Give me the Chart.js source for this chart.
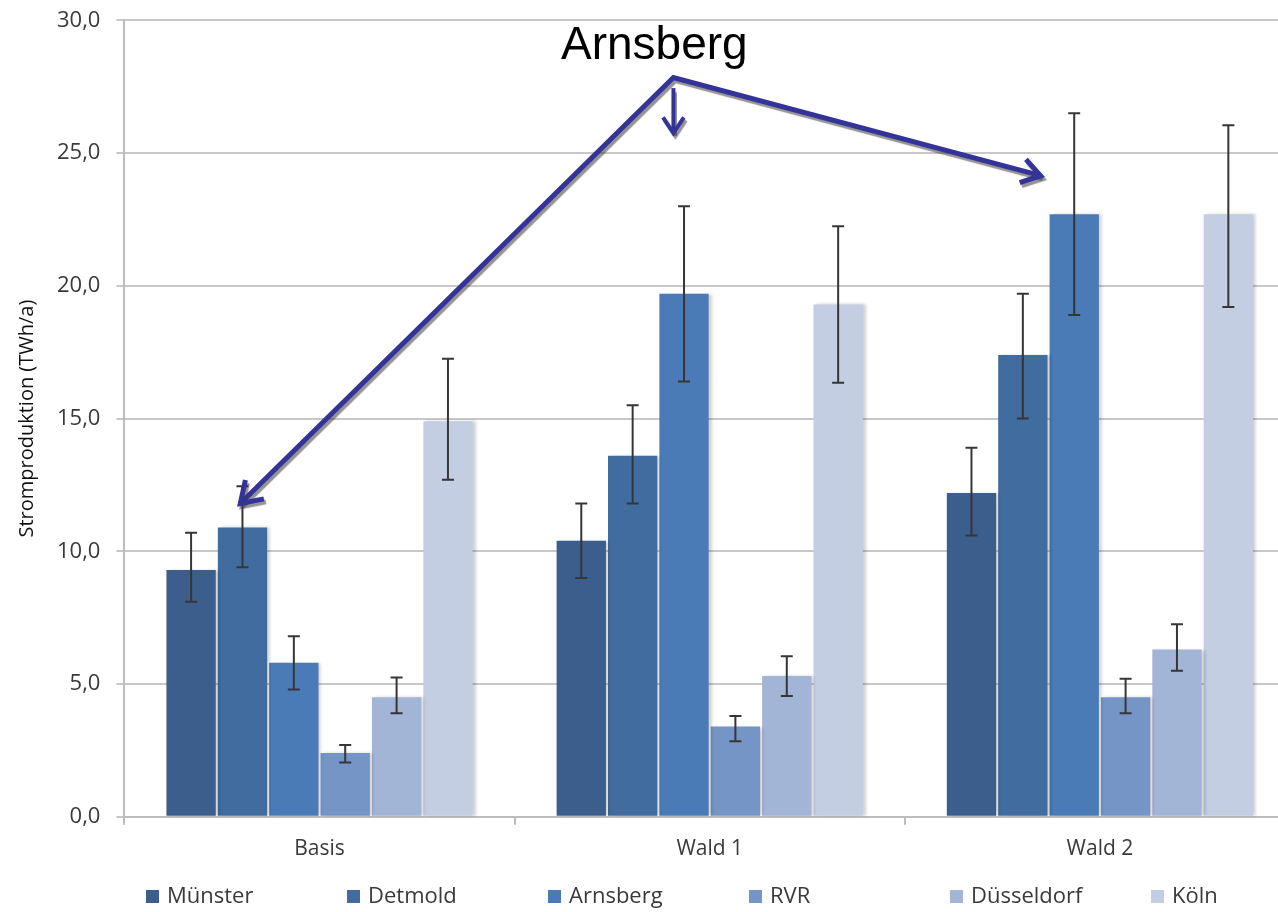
<!DOCTYPE html>
<html>
<head>
<meta charset="utf-8">
<script src="https://cdn.jsdelivr.net/npm/chart.js@4.4.1/dist/chart.umd.min.js"></script>
<style>
  html, body { margin: 0; padding: 0; background: #fff; overflow: hidden; }
  #wrap { width: 1300px; height: 912px; }
</style>
</head>
<body>
<div id="wrap"><canvas id="chart" width="1300" height="912"></canvas></div>
<script>
// Szenarien und Regierungsbezirke
const scenarios = ['Basis', 'Wald 1', 'Wald 2'];
const regions = ['Münster', 'Detmold', 'Arnsberg', 'RVR', 'Düsseldorf', 'Köln'];
const yTicks = [0, 5, 10, 15, 20, 25, 30];

// Stromproduktion in TWh/a (Basis, Wald 1, Wald 2)
const muenster = [9.3, 10.4, 12.2];
const detmold = [10.9, 13.6, 17.4];
const arnsberg = [5.8, 19.7, 22.7];
const rvr = [2.4, 3.4, 4.5];
const duesseldorf = [4.5, 5.3, 6.3];
const koeln = [14.9, 19.3, 22.7];

// Fehlerbalken [min, max]
const muensterErr = [[8.1, 10.7], [9.0, 11.8], [10.6, 13.9]];
const detmoldErr = [[9.4, 12.45], [11.8, 15.5], [15.0, 19.7]];
const arnsbergErr = [[4.8, 6.8], [16.4, 23.0], [18.9, 26.5]];
const rvrErr = [[2.05, 2.7], [2.85, 3.8], [3.9, 5.2]];
const duesseldorfErr = [[3.9, 5.25], [4.55, 6.05], [5.5, 7.25]];
const koelnErr = [[12.7, 17.25], [16.35, 22.25], [19.2, 26.05]];

const colors = ['#3b5e8c', '#416ca0', '#4a7bb7', '#7495c5', '#a2b5d7', '#c4cee3'];
const seriesValues = [muenster, detmold, arnsberg, rvr, duesseldorf, koeln];
const seriesErrors = [muensterErr, detmoldErr, arnsbergErr, rvrErr, duesseldorfErr, koelnErr];

// Annotation "Arnsberg" (Kategorie-Index, Wert)
const labelPos = [0.858, 28.55];
const hubPos = [0.907, 27.85];
const arrowTargets = [[-0.203, 11.8], [1.848, 24.15]];
const downArrow = [[0.907, 27.45], [0.907, 25.75]];

const FONT = 'Open Sans';

const barShadow = {
  id: 'barShadow',
  beforeDatasetsDraw(chart) {
    const ctx = chart.ctx;
    ctx.save();
    ctx.shadowColor = 'rgba(0,0,0,0.18)';
    ctx.shadowOffsetX = 3;
    ctx.shadowOffsetY = 0;
    ctx.shadowBlur = 3;
  },
  afterDatasetsDraw(chart) {
    chart.ctx.restore();
  }
};

const errorBars = {
  id: 'errorBars',
  afterDatasetsDraw(chart) {
    const ctx = chart.ctx;
    const y = chart.scales.y;
    ctx.save();
    ctx.strokeStyle = '#363636';
    ctx.lineWidth = 2;
    chart.data.datasets.forEach((ds, di) => {
      const meta = chart.getDatasetMeta(di);
      meta.data.forEach((bar, i) => {
        const [lo, hi] = seriesErrors[di][i];
        const x = bar.x;
        const yl = y.getPixelForValue(lo);
        const yh = y.getPixelForValue(hi);
        ctx.beginPath();
        ctx.moveTo(x, yl); ctx.lineTo(x, yh);
        ctx.moveTo(x - 6, yl); ctx.lineTo(x + 6, yl);
        ctx.moveTo(x - 6, yh); ctx.lineTo(x + 6, yh);
        ctx.stroke();
      });
    });
    ctx.restore();
  }
};

function arrowHead(ctx, fx, fy, tx, ty, len) {
  const a = Math.atan2(ty - fy, tx - fx);
  const spread = 0.58;
  ctx.beginPath();
  ctx.moveTo(tx - len * Math.cos(a - spread), ty - len * Math.sin(a - spread));
  ctx.lineTo(tx, ty);
  ctx.lineTo(tx - len * Math.cos(a + spread), ty - len * Math.sin(a + spread));
  ctx.stroke();
}

const annotation = {
  id: 'annotation',
  afterDraw(chart) {
    const ctx = chart.ctx;
    const xs = chart.scales.x, ys = chart.scales.y;
    const px = p => [xs.getPixelForValue(p[0]), ys.getPixelForValue(p[1])];
    ctx.save();
    ctx.fillStyle = '#000';
    ctx.font = '46px "Liberation Sans", Arial, sans-serif';
    ctx.textAlign = 'center';
    ctx.textBaseline = 'alphabetic';
    const lp = px(labelPos);
    ctx.fillText('Arnsberg', lp[0], lp[1]);

    ctx.strokeStyle = '#33339a';
    ctx.lineWidth = 5;
    ctx.lineJoin = 'miter';
    ctx.lineCap = 'butt';
    ctx.shadowColor = 'rgba(60,60,60,0.55)';
    ctx.shadowOffsetX = 2;
    ctx.shadowOffsetY = 3;
    ctx.shadowBlur = 1;
    const hub = px(hubPos);
    const left = px(arrowTargets[0]);
    const right = px(arrowTargets[1]);
    ctx.beginPath();
    ctx.moveTo(left[0], left[1]);
    ctx.lineTo(hub[0], hub[1]);
    ctx.lineTo(right[0], right[1]);
    ctx.stroke();
    arrowHead(ctx, hub[0], hub[1], left[0], left[1], 24);
    arrowHead(ctx, hub[0], hub[1], right[0], right[1], 22);
    const d0 = px(downArrow[0]), d1 = px(downArrow[1]);
    ctx.lineWidth = 4;
    ctx.beginPath();
    ctx.moveTo(d0[0], d0[1]);
    ctx.lineTo(d1[0], d1[1]);
    ctx.stroke();
    arrowHead(ctx, d0[0], d0[1], d1[0], d1[1], 19);
    ctx.restore();
  }
};

// Legende mit gleich breiten Einträgen (wie im Original)
const fixedLegend = {
  id: 'fixedLegend',
  afterDraw(chart) {
    const ctx = chart.ctx;
    const y0 = chart.height - 15;
    const start = 146, step = 201;
    ctx.save();
    ctx.font = '22px "' + FONT + '"';
    ctx.textBaseline = 'middle';
    chart.data.datasets.forEach((ds, i) => {
      const x = start + i * step;
      ctx.fillStyle = ds.backgroundColor;
      ctx.fillRect(x, y0 - 7, 13, 13);
      ctx.fillStyle = '#3a3a3a';
      ctx.fillText(ds.label, x + 21, y0);
    });
    ctx.restore();
  }
};

new Chart(document.getElementById('chart').getContext('2d'), {
  type: 'bar',
  data: {
    labels: scenarios,
    datasets: regions.map((r, i) => ({
      label: r,
      data: seriesValues[i],
      backgroundColor: colors[i],
      borderWidth: 0,
      categoryPercentage: 0.79,
      barPercentage: 0.96,
    })),
  },
  options: {
    responsive: false,
    animation: false,
    devicePixelRatio: 1,
    layout: { padding: { left: 15, right: 5, top: 20, bottom: 38 } },
    plugins: {
      legend: { display: false },
      tooltip: { enabled: false },
    },
    scales: {
      x: {
        grid: { offset: true, drawOnChartArea: false, drawTicks: true, tickLength: 8, color: '#bdbdbd', lineWidth: 2 },
        border: { display: true, color: '#bdbdbd', width: 2 },
        ticks: { color: '#3a3a3a', font: { family: FONT, size: 21 }, padding: 12 },
      },
      y: {
        min: 0,
        max: 30,
        afterBuildTicks(axis) { axis.ticks = yTicks.map(v => ({ value: v })); },
        grid: { color: '#c8c8c8', lineWidth: 2, tickLength: 8 },
        border: { display: true, color: '#bdbdbd', width: 2 },
        ticks: {
          color: '#3a3a3a',
          font: { family: FONT, size: 22, lineHeight: 0.4 },
          padding: 16,
          callback: v => v.toFixed(1).replace('.', ','),
        },
        title: {
          display: true,
          text: 'Stromproduktion (TWh/a)',
          color: '#111',
          font: { family: FONT, size: 20 },
          padding: { top: 0, bottom: 2 },
        },
      },
    },
  },
  plugins: [barShadow, errorBars, annotation, fixedLegend],
});
</script>
</body>
</html>
